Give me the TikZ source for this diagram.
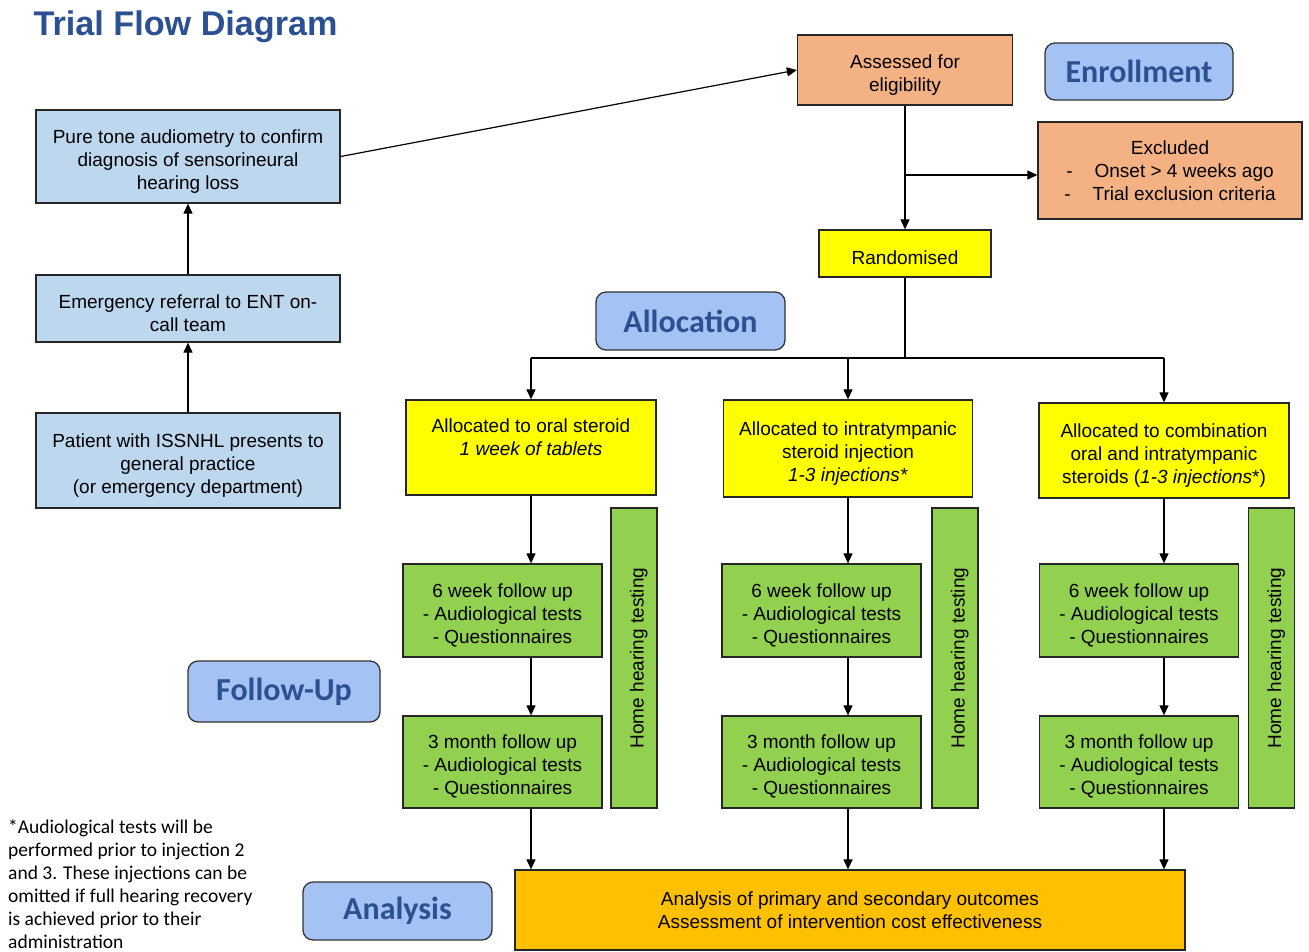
\documentclass[tikz,border=0pt]{standalone}
\usepackage{fontspec}
\setmainfont{Liberation Sans}
\newfontfamily\calfont{Carlito}
\usetikzlibrary{arrows.meta}
\definecolor{boxblue}{HTML}{BDD7EE}
\definecolor{boxorange}{HTML}{F4B183}
\definecolor{boxyellow}{HTML}{FFFF00}
\definecolor{boxgreen}{HTML}{92D050}
\definecolor{boxgold}{HTML}{FFC000}
\definecolor{stagefill}{HTML}{A4C2F4}
\definecolor{titleblue}{HTML}{2B5193}
\newcommand{\tg}{\rule{0pt}{23pt}}
\tikzset{
	box/.style={draw=black!85, line width=1.3pt, align=center, inner sep=0pt,
		font=\fontsize{19}{23}\selectfont},
	stage/.style={draw=black!80, line width=1.3pt, rounded corners=10pt, fill=stagefill,
		text=titleblue, inner sep=0pt, font=\calfont\bfseries\fontsize{32}{36}\selectfont},
	arr/.style={line width=1.2pt, -{Triangle[length=10pt,width=9pt]}},
	ln/.style={line width=1.2pt}
}
\begin{document}
\begin{tikzpicture}[x=1pt,y=-1pt]
	\useasboundingbox (0,0) rectangle (1309,951);
	\node[anchor=base west, text=titleblue, font=\bfseries\fontsize{34.2}{38}\selectfont] at (30,35) (title) {Trial Flow Diagram};
	% left column
	\node[box, fill=boxblue, minimum width=304, minimum height=93] at (188,156.5) (pta) {\tg Pure tone audiometry to confirm\\diagnosis of sensorineural\\hearing loss};
	\node[box, fill=boxblue, minimum width=304, minimum height=67] at (188,308.5) (ref) {\tg Emergency referral to ENT on-\\call team};
	\node[box, fill=boxblue, minimum width=304, minimum height=95] at (188,460.5) (pat) {\tg Patient with ISSNHL presents to\\general practice\\(or emergency department)};
	% enrollment
	\node[box, fill=boxorange, minimum width=215, minimum height=70] at (905,70) (ass) {\tg Assessed for\\eligibility};
	\node[stage, minimum width=188, minimum height=57] at (1139,71.5) (enr) {Enrollment};
	\node[box, fill=boxorange, minimum width=264, minimum height=97] at (1170,170.5) (exc) {Excluded\\-\hspace{22pt}Onset > 4 weeks ago\\-\hspace{22pt}Trial exclusion criteria};
	\node[box, fill=boxyellow, minimum width=172, minimum height=47] at (905,253.5) (ran) {\tg Randomised};
	\node[stage, minimum width=189, minimum height=58] at (690.5,321) (allo) {Allocation};
	% allocation
	\node[box, fill=boxyellow, minimum width=250, minimum height=95] at (531,447.5) (al1) {\tg Allocated to oral steroid\\\textit{1 week of tablets}\\\strut};
	\node[box, fill=boxyellow, minimum width=249, minimum height=97] at (848,448.5) (al2) {\tg Allocated to intratympanic\\steroid injection\\\textit{1-3 injections*}};
	\node[box, fill=boxyellow, minimum width=250, minimum height=95] at (1164,450.5) (al3) {\tg Allocated to combination\\oral and intratympanic\\steroids (\textit{1-3 injections}*)};
	% follow up
	\node[box, fill=boxgreen, minimum width=199, minimum height=93] at (502.5,610.5) (six1) {\tg 6 week follow up\\- Audiological tests\\- Questionnaires};
	\node[box, fill=boxgreen, minimum width=199, minimum height=93] at (821.5,610.5) (six2) {\tg 6 week follow up\\- Audiological tests\\- Questionnaires};
	\node[box, fill=boxgreen, minimum width=199, minimum height=93] at (1139,610.5) (six3) {\tg 6 week follow up\\- Audiological tests\\- Questionnaires};
	\node[box, fill=boxgreen, minimum width=199, minimum height=92] at (502.5,762) (thr1) {\tg 3 month follow up\\- Audiological tests\\- Questionnaires};
	\node[box, fill=boxgreen, minimum width=199, minimum height=92] at (821.5,762) (thr2) {\tg 3 month follow up\\- Audiological tests\\- Questionnaires};
	\node[box, fill=boxgreen, minimum width=199, minimum height=92] at (1139,762) (thr3) {\tg 3 month follow up\\- Audiological tests\\- Questionnaires};
	\node[box, fill=boxgreen, rotate=90, minimum width=300, minimum height=46] at (634,658) (home1) {\tg Home hearing testing};
	\node[box, fill=boxgreen, rotate=90, minimum width=300, minimum height=46] at (955,658) (home2) {\tg Home hearing testing};
	\node[box, fill=boxgreen, rotate=90, minimum width=300, minimum height=46] at (1271.5,658) (home3) {\tg Home hearing testing};
	\node[stage, minimum width=192, minimum height=61] at (284,691.5) (fol) {Follow-Up};
	% analysis
	\node[box, fill=boxgold, minimum width=670, minimum height=80] at (850,910) (ana) {Analysis of primary and secondary outcomes\\Assessment of intervention cost effectiveness};
	\node[stage, minimum width=189, minimum height=58] at (397.5,911) (anl) {Analysis};
	\node[anchor=north west, align=left, inner sep=0pt, font=\calfont\fontsize{19.5}{23}\selectfont] at (8,819) (note) {*Audiological tests will be\\performed prior to injection 2\\and 3. These injections can be\\omitted if full hearing recovery\\is achieved prior to their\\administration};
	% connectors
	\coordinate (br) at (905,175);
	\coordinate (split) at (905,358);
	\path[arr] (pat) edge (ref)
	(ref) edge (pta)
	(pta.east) edge (ass.west)
	(ass) edge (ran)
	(br) edge (br -| exc.west);
	\draw[ln] (ran.south) -- (split);
	\draw[ln] (split -| al1.north) -- (split -| al3.north);
	\path[arr] (split -| al1.north) edge (al1.north)
	(split -| al2.north) edge (al2.north)
	(split -| al3.north) edge (al3.north);
	\foreach \c in {1,2,3}{
		\path[arr] (al\c.south) edge (al\c.south |- six\c.north)
		(al\c.south |- six\c.south) edge (al\c.south |- thr\c.north)
		(al\c.south |- thr\c.south) edge (al\c.south |- ana.north);
	}
\end{tikzpicture}
\end{document}
